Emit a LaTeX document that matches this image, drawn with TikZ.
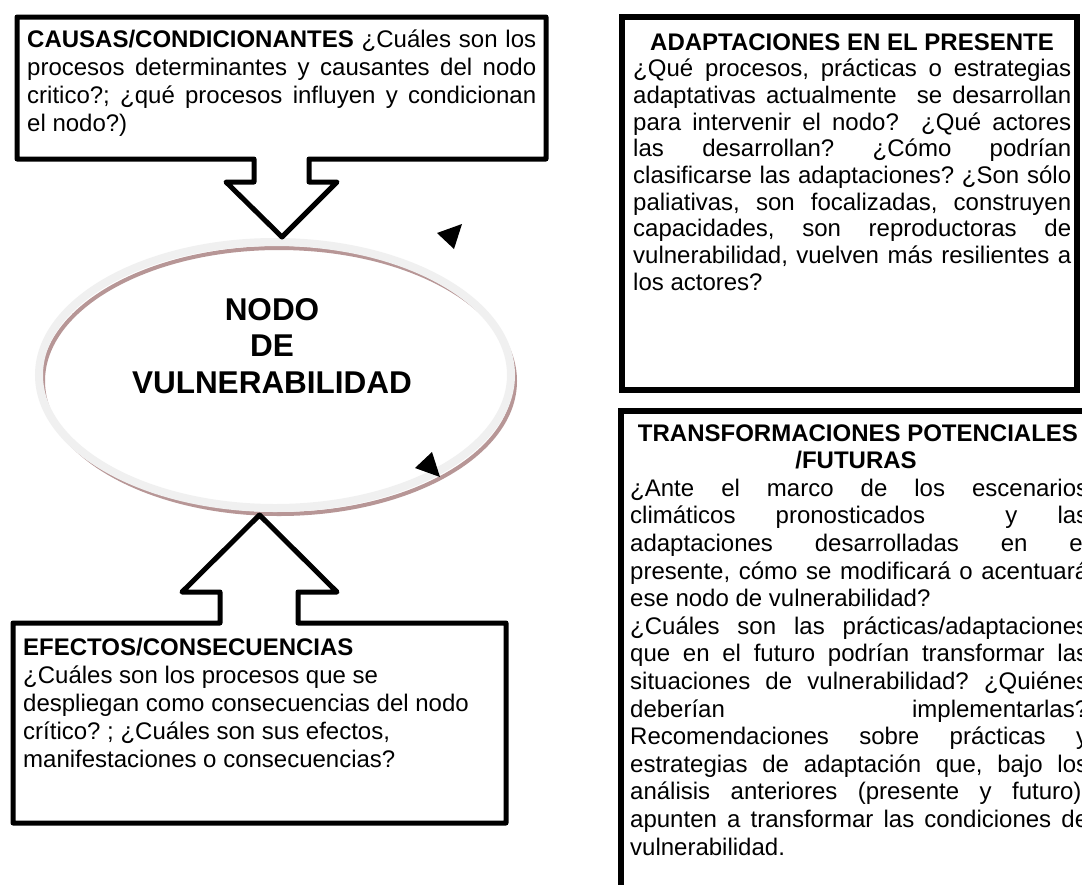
\documentclass[tikz,border=0pt]{standalone}
\usepackage{fontspec}
\setmainfont{Liberation Sans}
\definecolor{ellpink}{RGB}{183,150,150}
\definecolor{ellgray}{RGB}{240,240,240}
\newcommand\jline[2]{\makebox[#1][s]{#2}}
\frenchspacing
\begin{document}
\begin{tikzpicture}[x=1pt,y=-1pt,
  boxline/.style={draw=black, line width=5pt, line join=round, fill=white},
  rboxline/.style={draw=black, line width=5.5pt, line join=miter},
  txt/.style={inner sep=0pt, anchor=base west, font=\fontsize{24}{28}\selectfont},
  ttl/.style={inner sep=0pt, anchor=base, font=\fontsize{24}{28}\selectfont\bfseries},
  big/.style={inner sep=0pt, anchor=base, font=\fontsize{31.5}{36}\selectfont\bfseries},
  tri/.style={fill=black, draw=none}]
\useasboundingbox (0,0) rectangle (1082,884);
\fill[white] (0,0) rectangle (1082,884);
\clip (0,0) rectangle (1082,884);

% central ellipse
\draw[ellpink, line width=4pt] (279,381) ellipse [x radius=236pt, y radius=133pt];
\draw[ellgray, line width=8pt] (275,375) ellipse [x radius=236pt, y radius=133pt];
\node[big] (n1) at (272,320) {NODO};
\node[big] (n2) at (272,356) {DE};
\node[big] (n3) at (272,393) {VULNERABILIDAD};

% top-left box with down arrow
\draw[boxline] (17,17) -- (546,17) -- (546,159) -- (309,159) -- (309,182) -- (337,182)
  -- (282,237) -- (226,182) -- (254,182) -- (254,159) -- (17,159) -- cycle;
\node[txt] (c1) at (27,47) {\jline{509pt}{\textbf{CAUSAS/CONDICIONANTES} ¿Cuáles son los}};
\node[txt] (c2) at (27,75.3) {\jline{509pt}{procesos determinantes y causantes del nodo}};
\node[txt] (c3) at (27,103.6) {\jline{509pt}{critico?; ¿qué procesos influyen y condicionan}};
\node[txt] (c4) at (27,131.9) {el nodo?)};

% bottom-left box with up arrow
\draw[boxline] (13,623) -- (220,623) -- (220,592) -- (182,592) -- (259.5,515) -- (337,592)
  -- (298,592) -- (298,623) -- (506,623) -- (506,823) -- (13,823) -- cycle;
\node[txt] (e1) at (23,655) {\textbf{EFECTOS/CONSECUENCIAS}};
\node[txt] (e2) at (23,683) {¿Cuáles son los procesos que se};
\node[txt] (e3) at (23,711) {despliegan como consecuencias del nodo};
\node[txt] (e4) at (23,739) {crítico? ; ¿Cuáles son sus efectos,};
\node[txt] (e5) at (23,767) {manifestaciones o consecuencias?};

% top-right box
\draw[rboxline] (622,17) rectangle (1077,390);
\node[ttl] (a1) at (852,50) {ADAPTACIONES EN EL PRESENTE};
\node[txt] (a2) at (633,76.7) {\jline{438pt}{¿Qué procesos, prácticas o estrategias}};
\node[txt] (a3) at (633,103.4) {\jline{438pt}{adaptativas actualmente\ \ se desarrollan}};
\node[txt] (a4) at (633,130.1) {\jline{438pt}{para intervenir el nodo?\ \ ¿Qué actores}};
\node[txt] (a5) at (633,156.8) {\jline{438pt}{las desarrollan? ¿Cómo podrían}};
\node[txt] (a6) at (633,183.5) {\jline{438pt}{clasificarse las adaptaciones? ¿Son sólo}};
\node[txt] (a7) at (633,210.2) {\jline{438pt}{paliativas, son focalizadas, construyen}};
\node[txt] (a8) at (633,236.9) {\jline{438pt}{capacidades, son reproductoras de}};
\node[txt] (a9) at (633,263.6) {\jline{438pt}{vulnerabilidad, vuelven más resilientes a}};
\node[txt] (a10) at (633,290.3) {los actores?};

% bottom-right box
\draw[rboxline] (621,411) rectangle (1100,910);
\node[ttl] (t0) at (858,441) {TRANSFORMACIONES POTENCIALES};
\node[ttl] (t1) at (856,468.6) {/FUTURAS};
\node[txt] (t2) at (630,496.2) {\jline{458pt}{¿Ante el marco de los escenarios}};
\node[txt] (t3) at (630,523.8) {\jline{458pt}{climáticos pronosticados\ \ y las}};
\node[txt] (t4) at (630,551.4) {\jline{458pt}{adaptaciones desarrolladas en el}};
\node[txt] (t5) at (630,579) {\jline{458pt}{presente, cómo se modificará o acentuará}};
\node[txt] (t6) at (630,606.6) {ese nodo de vulnerabilidad?};
\node[txt] (t7) at (630,634.2) {\jline{458pt}{¿Cuáles son las prácticas/adaptaciones}};
\node[txt] (t8) at (630,661.8) {\jline{458pt}{que en el futuro podrían transformar las}};
\node[txt] (t9) at (630,689.4) {\jline{458pt}{situaciones de vulnerabilidad? ¿Quiénes}};
\node[txt] (t10) at (630,717) {\jline{458pt}{deberían implementarlas?}};
\node[txt] (t11) at (630,744.6) {\jline{458pt}{Recomendaciones sobre prácticas y}};
\node[txt] (t12) at (630,772.2) {\jline{458pt}{estrategias de adaptación que, bajo los}};
\node[txt] (t13) at (630,799.8) {\jline{458pt}{análisis anteriores (presente y futuro),}};
\node[txt] (t14) at (630,827.4) {\jline{458pt}{apunten a transformar las condiciones de}};
\node[txt] (t15) at (630,855) {vulnerabilidad.};

% loose arrowheads
\fill[tri] (437,233) -- (462,224) -- (454,249) -- cycle;
\fill[tri] (415,468) -- (432,452) -- (440,477) -- cycle;
\end{tikzpicture}
\end{document}
